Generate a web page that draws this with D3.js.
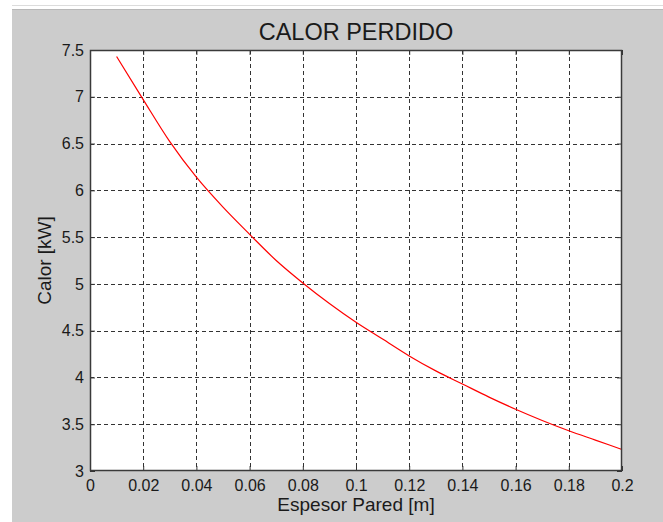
<!DOCTYPE html>
<html>
<head>
<meta charset="utf-8">
<script src="https://cdn.jsdelivr.net/npm/d3@7"></script>
<style>
  html, body { margin: 0; padding: 0; background: #ffffff; }
  svg { display: block; }
  text { font-family: "Liberation Sans", Arial, sans-serif; fill: #1a1a1a; }
</style>
</head>
<body>
<svg id="chart" width="663" height="522"></svg>
<script>
// ---- data ----
const espesor = [0.01, 0.02, 0.03, 0.04, 0.05, 0.06, 0.07, 0.08, 0.09, 0.10,
                 0.11, 0.12, 0.13, 0.14, 0.15, 0.16, 0.17, 0.18, 0.19, 0.20];
const calor   = [7.43, 6.97, 6.52, 6.14, 5.82, 5.53, 5.25, 5.01, 4.79, 4.59,
                 4.41, 4.23, 4.07, 3.93, 3.79, 3.66, 3.54, 3.43, 3.33, 3.23];
const xTicks = [0, 0.02, 0.04, 0.06, 0.08, 0.1, 0.12, 0.14, 0.16, 0.18, 0.2];
const xTickLabels = ["0", "0.02", "0.04", "0.06", "0.08", "0.1", "0.12", "0.14", "0.16", "0.18", "0.2"];
const yTicks = [3, 3.5, 4, 4.5, 5, 5.5, 6, 6.5, 7, 7.5];
const yTickLabels = ["3", "3.5", "4", "4.5", "5", "5.5", "6", "6.5", "7", "7.5"];
const titleText = "CALOR PERDIDO";
const xLabelText = "Espesor Pared [m]";
const yLabelText = "Calor [kW]";

const W = 663, H = 522;
const L = 90, R = 622, T = 50, B = 471;

const svg = d3.select("#chart");

// window-like frame
svg.append("rect").attr("x", 0).attr("y", 0).attr("width", W).attr("height", H).attr("fill", "#ffffff");
svg.append("rect").attr("x", 12).attr("y", 9).attr("width", W - 12).attr("height", H - 9).attr("fill", "#cccccc");
svg.append("line").attr("x1", 12).attr("x2", W).attr("y1", 5.5).attr("y2", 5.5).attr("stroke", "#dcdcdc").attr("stroke-width", 1);
svg.append("line").attr("x1", 12).attr("x2", W).attr("y1", 9.5).attr("y2", 9.5).attr("stroke", "#b8b8b8").attr("stroke-width", 1);

const x = d3.scaleLinear().domain([0, 0.2]).range([L, R]);
const y = d3.scaleLinear().domain([3, 7.5]).range([B, T]);

// plot area
svg.append("rect").attr("x", L).attr("y", T).attr("width", R - L).attr("height", B - T).attr("fill", "#ffffff");

// grid
const grid = svg.append("g").attr("stroke", "#333333").attr("stroke-width", 1).attr("stroke-dasharray", "4,3");
grid.selectAll("line.gx").data(xTicks.slice(1, -1)).join("line")
  .attr("x1", d => Math.round(x(d)) + 0.5).attr("x2", d => Math.round(x(d)) + 0.5)
  .attr("y1", T).attr("y2", B);
grid.selectAll("line.gy").data(yTicks.slice(1, -1)).join("line")
  .attr("y1", d => Math.round(y(d)) + 0.5).attr("y2", d => Math.round(y(d)) + 0.5)
  .attr("x1", L).attr("x2", R);

// curve
const line = d3.line().x((d, i) => x(espesor[i])).y(d => y(d)).curve(d3.curveMonotoneX);
svg.append("path").datum(calor).attr("d", line)
  .attr("fill", "none").attr("stroke", "#ff0000").attr("stroke-width", 1.2);

// axes with ticks using d3 axes
const fmtX = (d, i) => xTickLabels[i];
const fmtY = (d, i) => yTickLabels[i];

const axB = svg.append("g").attr("transform", `translate(0,${B})`)
  .call(d3.axisBottom(x).tickValues(xTicks).tickFormat(fmtX).tickSizeInner(-5).tickSizeOuter(0).tickPadding(9));
const axL = svg.append("g").attr("transform", `translate(${L},0)`)
  .call(d3.axisLeft(y).tickValues(yTicks).tickFormat(fmtY).tickSizeInner(-5).tickSizeOuter(0).tickPadding(6));
const axT = svg.append("g").attr("transform", `translate(0,${T})`)
  .call(d3.axisTop(x).tickValues(xTicks).tickFormat("").tickSizeInner(-5).tickSizeOuter(0));
const axR = svg.append("g").attr("transform", `translate(${R},0)`)
  .call(d3.axisRight(y).tickValues(yTicks).tickFormat("").tickSizeInner(-5).tickSizeOuter(0));

[axB, axL, axT, axR].forEach(a => {
  a.select(".domain").remove();
  a.selectAll(".tick line").attr("stroke", "#333333");
  a.selectAll(".tick text").attr("font-size", 16).attr("fill", "#1a1a1a")
    .style("font-family", "'Liberation Sans', Arial, sans-serif");
});

// box
svg.append("rect").attr("x", L + 0.5).attr("y", T + 0.5).attr("width", R - L - 1).attr("height", B - T - 1)
  .attr("fill", "none").attr("stroke", "#3a3a3a").attr("stroke-width", 1.5);

// title & labels
svg.append("text").attr("x", (L + R) / 2).attr("y", 40).attr("text-anchor", "middle")
  .attr("font-size", 23.5).text(titleText);
svg.append("text").attr("x", (L + R) / 2).attr("y", 511).attr("text-anchor", "middle")
  .attr("font-size", 19).text(xLabelText);
svg.append("text").attr("transform", `translate(51,${(T + B) / 2}) rotate(-90)`).attr("text-anchor", "middle")
  .attr("font-size", 19).text(yLabelText);
</script>
</body>
</html>
